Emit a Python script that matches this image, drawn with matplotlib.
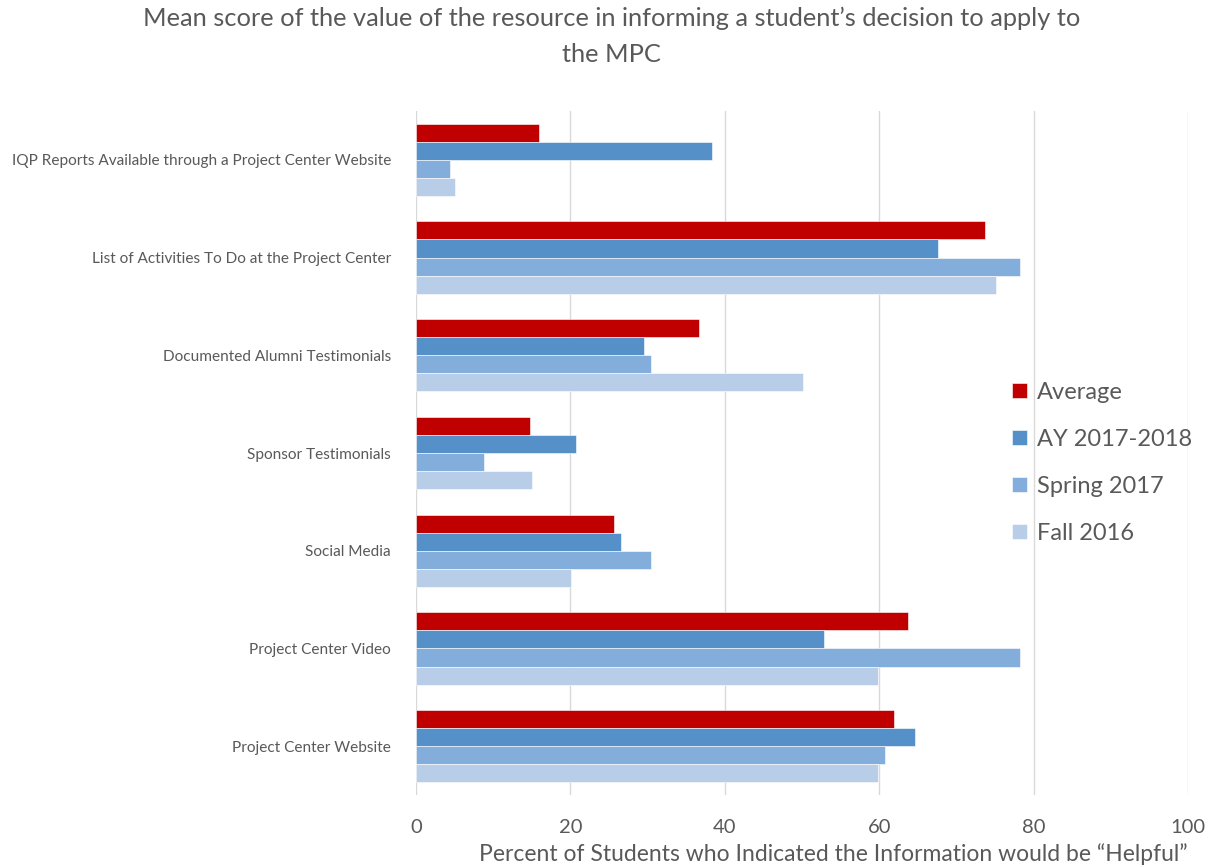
import matplotlib
matplotlib.use("Agg")
import matplotlib.pyplot as plt
import numpy as np

plt.rcParams['font.family'] = ['Lato', 'DejaVu Sans']

categories = [
    "IQP Reports Available through a Project Center Website",
    "List of Activities To Do at the Project Center",
    "Documented Alumni Testimonials",
    "Sponsor Testimonials",
    "Social Media",
    "Project Center Video",
    "Project Center Website",
]
series_names = ["Average", "AY 2017-2018", "Spring 2017", "Fall 2016"]
average = [15.9, 73.7, 36.7, 14.8, 25.7, 63.7, 61.9]
ay_2017_2018 = [38.3, 67.6, 29.5, 20.7, 26.5, 52.9, 64.7]
spring_2017 = [4.4, 78.3, 30.5, 8.8, 30.5, 78.3, 60.8]
fall_2016 = [5.1, 75.1, 50.1, 15.0, 20.1, 59.9, 59.9]
x_ticks = [0, 20, 40, 60, 80, 100]

series = [average, ay_2017_2018, spring_2017, fall_2016]
colors = ["#C00000", "#5591C8", "#83AEDB", "#B8CDE8"]
text_color = "#595959"

fig = plt.figure(figsize=(12.11, 8.67), dpi=100)
ax = fig.add_axes([0.3435, 0.083, 0.6375, 0.789])

y = np.arange(len(categories))
h = 0.185
for i, (vals, col, name) in enumerate(zip(series, colors, series_names)):
    ax.barh(y + (i - 1.5) * h, vals, height=h, color=col, label=name,
            edgecolor="white", linewidth=0.4, zorder=3)

ax.set_xlim(0, 100)
ax.set_ylim(len(categories) - 0.5, -0.5)
ax.set_xticks(x_ticks)
ax.set_xticklabels([str(t) for t in x_ticks], fontsize=14.5, color=text_color)
ax.set_yticks(y)
ax.set_yticklabels(categories, fontsize=11.1, color=text_color)
ax.tick_params(axis="both", length=0)
ax.tick_params(axis="x", pad=17)
ax.tick_params(axis="y", pad=18)
ax.xaxis.grid(True, color="#D9D9D9", linewidth=1, zorder=0)
ax.set_axisbelow(True)
for s in ax.spines.values():
    s.set_visible(False)

ax.set_xlabel("Percent of Students who Indicated the Information would be \u201cHelpful\u201d",
              fontsize=16.5, color=text_color)
ax.xaxis.set_label_coords(0.54, -0.07)

fig.suptitle("Mean score of the value of the resource in informing a student\u2019s decision to apply to\nthe MPC",
             x=0.505, y=0.992, fontsize=18.3, color=text_color, linespacing=1.65)

leg = ax.legend(loc="center left", bbox_to_anchor=(0.745, 0.485), frameon=False,
                fontsize=17, handlelength=0.6, handleheight=0.6, handletextpad=0.45,
                labelspacing=1.1)
for t in leg.get_texts():
    t.set_color(text_color)

fig.savefig("out.png", dpi=100, facecolor="white")
